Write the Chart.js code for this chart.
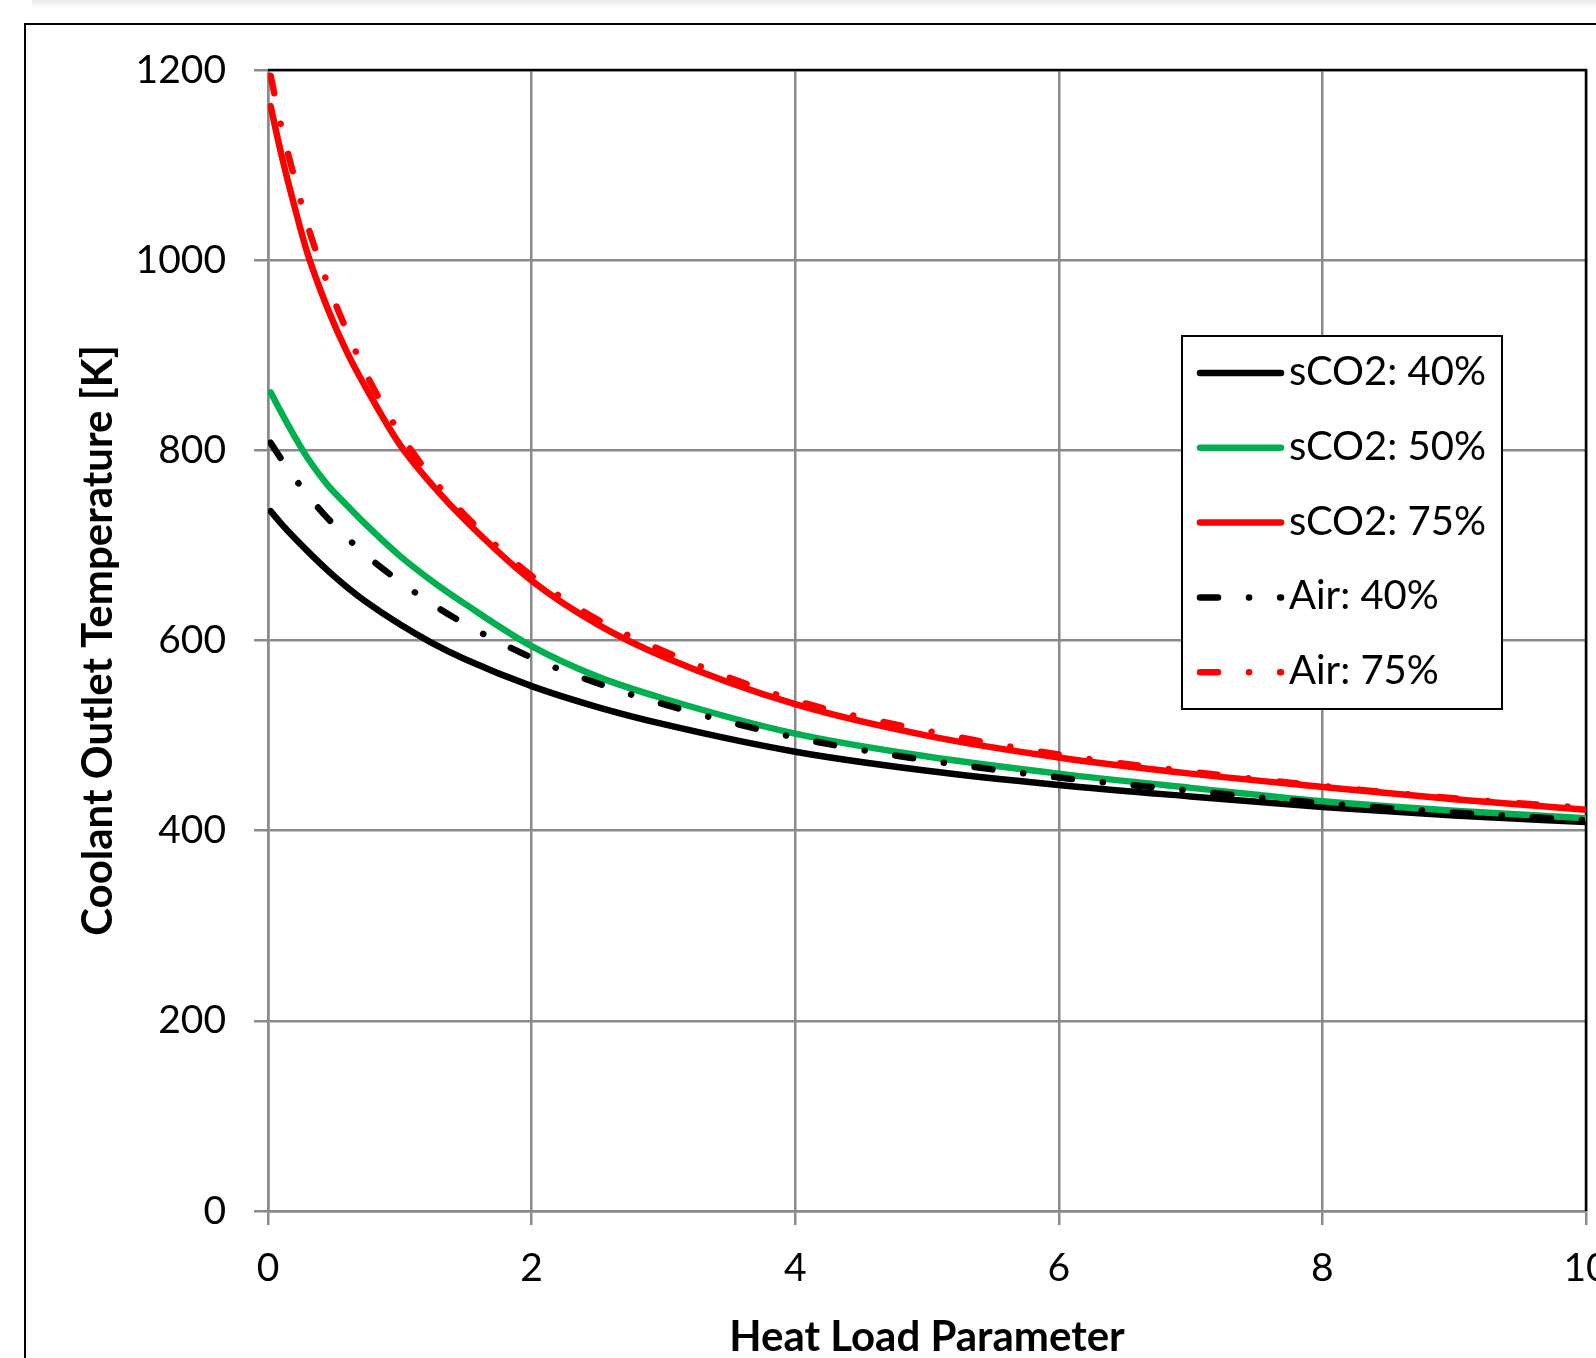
<!DOCTYPE html>
<html>
<head>
<meta charset="utf-8">
<title>Coolant Outlet Temperature vs Heat Load Parameter</title>
<script src="https://cdn.jsdelivr.net/npm/chart.js@4.4.1/dist/chart.umd.min.js"></script>
<style>
  html, body { margin: 0; padding: 0; background: #fff; overflow: hidden; }
  #wrap { position: relative; width: 1596px; height: 1358px; }
</style>
</head>
<body>
<div id="wrap"><canvas id="chart" width="1596" height="1358"></canvas></div>
<script>
// Values
const X_VALUES = [0.02, 0.1, 0.2, 0.3, 0.45, 0.6, 0.75, 1, 1.25, 1.5, 2, 2.5, 3, 4, 5, 6, 7, 8, 9, 10];
const SCO2_40 = [736, 723, 708, 694, 674, 656, 640, 617, 597, 580, 552, 530, 512, 483, 463, 448, 436, 425, 416, 409];
const SCO2_50 = [861, 840, 815, 792, 764, 742, 721, 689, 662, 638, 594, 562, 539, 502, 478, 460, 445, 431, 421, 413];
const SCO2_75 = [1162, 1112, 1057, 1007, 950, 903, 864, 806, 763, 726, 663, 617, 583, 533, 500, 477, 460, 446, 433, 422];
const AIR_40 = [808, 791, 771, 753, 729, 708, 689, 662, 638, 617, 582, 555, 533, 498, 474, 456, 442, 429, 419, 411];
const AIR_75 = [1194, 1141, 1087, 1037, 976, 925, 879, 818, 770, 731, 668, 622, 589, 537, 505, 480, 462, 447, 434, 424];

const SERIES_LABELS = ['sCO2: 40%', 'sCO2: 50%', 'sCO2: 75%', 'Air: 40%', 'Air: 75%'];
const X_TITLE = 'Heat Load Parameter';
const Y_TITLE = 'Coolant Outlet Temperature [K]';
const X_MIN = 0, X_MAX = 10, X_STEP = 2;
const Y_MIN = 0, Y_MAX = 1200, Y_STEP = 200;

const GRID = '#8a8a8a';
const AIR_DASH = [18, 31, 0.1, 31];

function pts(ys) {
    return X_VALUES.map((x, i) => ({ x: x, y: ys[i] }));
}

function series(label, ys, color, dash, order) {
    return {
        label: label,
        data: pts(ys),
        borderColor: color,
        backgroundColor: color,
        borderWidth: 6.5,
        borderDash: dash,
        borderCapStyle: 'round',
        borderJoinStyle: 'round',
        cubicInterpolationMode: 'monotone',
        pointRadius: 0,
        fill: false,
        order: order
    };
}

// frame, outer border and the legend box
const decor = {
    id: 'decor',
    beforeDraw(c) {
        const ctx = c.ctx;
        ctx.save();
        const g = ctx.createLinearGradient(0, 0, 0, 8);
        g.addColorStop(0, '#e9e9e9');
        g.addColorStop(1, '#ffffff');
        ctx.fillStyle = g;
        ctx.fillRect(32, 0, c.width - 32, 8);
        ctx.strokeStyle = '#000';
        ctx.lineWidth = 2;
        ctx.strokeRect(25, 24, 1800, 1600);
        ctx.restore();
    },
    beforeDatasetsDraw(c) {
        const a = c.chartArea;
        const ctx = c.ctx;
        ctx.save();
        ctx.strokeStyle = '#000';
        ctx.lineWidth = 2.5;
        ctx.beginPath();
        ctx.moveTo(a.left, a.top);
        ctx.lineTo(a.right, a.top);
        ctx.lineTo(a.right, a.bottom);
        ctx.stroke();
        ctx.restore();
    },
    afterDraw(c) {
        const ctx = c.ctx;
        ctx.save();
        const bx = 1182, by = 336, bw = 320, bh = 373;
        ctx.fillStyle = '#fff';
        ctx.fillRect(bx, by, bw, bh);
        ctx.strokeStyle = '#000';
        ctx.lineWidth = 2;
        ctx.strokeRect(bx, by, bw, bh);
        ctx.font = '40px Lato';
        ctx.textBaseline = 'middle';
        ctx.textAlign = 'left';
        c.data.datasets.forEach((ds, i) => {
            const y = by + 37 + i * 74.8;
            ctx.strokeStyle = ds.borderColor;
            ctx.lineWidth = ds.borderWidth;
            ctx.lineCap = 'round';
            ctx.setLineDash(ds.borderDash || []);
            ctx.beginPath();
            ctx.moveTo(1200, y);
            ctx.lineTo(1281, y);
            ctx.stroke();
            ctx.setLineDash([]);
            ctx.fillStyle = '#000';
            ctx.fillText(ds.label, 1289, y - 1);
        });
        ctx.restore();
    }
};

Chart.defaults.font.family = 'Lato';
Chart.defaults.color = '#000';

new Chart(document.getElementById('chart'), {
    type: 'line',
    data: {
        datasets: [
            series(SERIES_LABELS[0], SCO2_40, '#000000', [], 5),
            series(SERIES_LABELS[1], SCO2_50, '#00b050', [], 4),
            series(SERIES_LABELS[2], SCO2_75, '#ff0000', [], 3),
            series(SERIES_LABELS[3], AIR_40, '#000000', AIR_DASH, 2),
            series(SERIES_LABELS[4], AIR_75, '#ff0000', AIR_DASH, 1)
        ]
    },
    options: {
        responsive: false,
        animation: false,
        devicePixelRatio: 1,
        layout: { padding: { top: 70, right: 10, left: 0, bottom: 0 } },
        plugins: {
            legend: { display: false },
            tooltip: { enabled: false }
        },
        scales: {
            x: {
                type: 'linear',
                min: X_MIN,
                max: X_MAX,
                afterFit(s) {
                    s.height = 147;
                    s.paddingLeft = 0;
                    s.paddingRight = 0;
                },
                ticks: {
                    stepSize: X_STEP,
                    font: { size: 39 },
                    padding: 20,
                    maxRotation: 0,
                    callback: (v) => String(v)
                },
                grid: { color: GRID, lineWidth: 2.5, tickLength: 14, tickColor: GRID },
                border: { color: GRID, width: 2.5 },
                title: {
                    display: true,
                    text: X_TITLE,
                    font: { size: 42, weight: 'bold' },
                    padding: { top: 0, bottom: -5 }
                }
            },
            y: {
                min: Y_MIN,
                max: Y_MAX,
                afterFit(s) {
                    s.width = 268;
                    s.paddingTop = 0;
                    s.paddingBottom = 0;
                },
                ticks: {
                    stepSize: Y_STEP,
                    font: { size: 39 },
                    padding: 28,
                    callback: (v) => String(v)
                },
                grid: { color: GRID, lineWidth: 2.5, tickLength: 14, tickColor: GRID },
                border: { color: GRID, width: 2.5 },
                title: {
                    display: true,
                    text: Y_TITLE,
                    font: { size: 42, weight: 'bold' },
                    padding: { top: 73, bottom: 0 }
                }
            }
        }
    },
    plugins: [decor]
});
</script>
</body>
</html>
